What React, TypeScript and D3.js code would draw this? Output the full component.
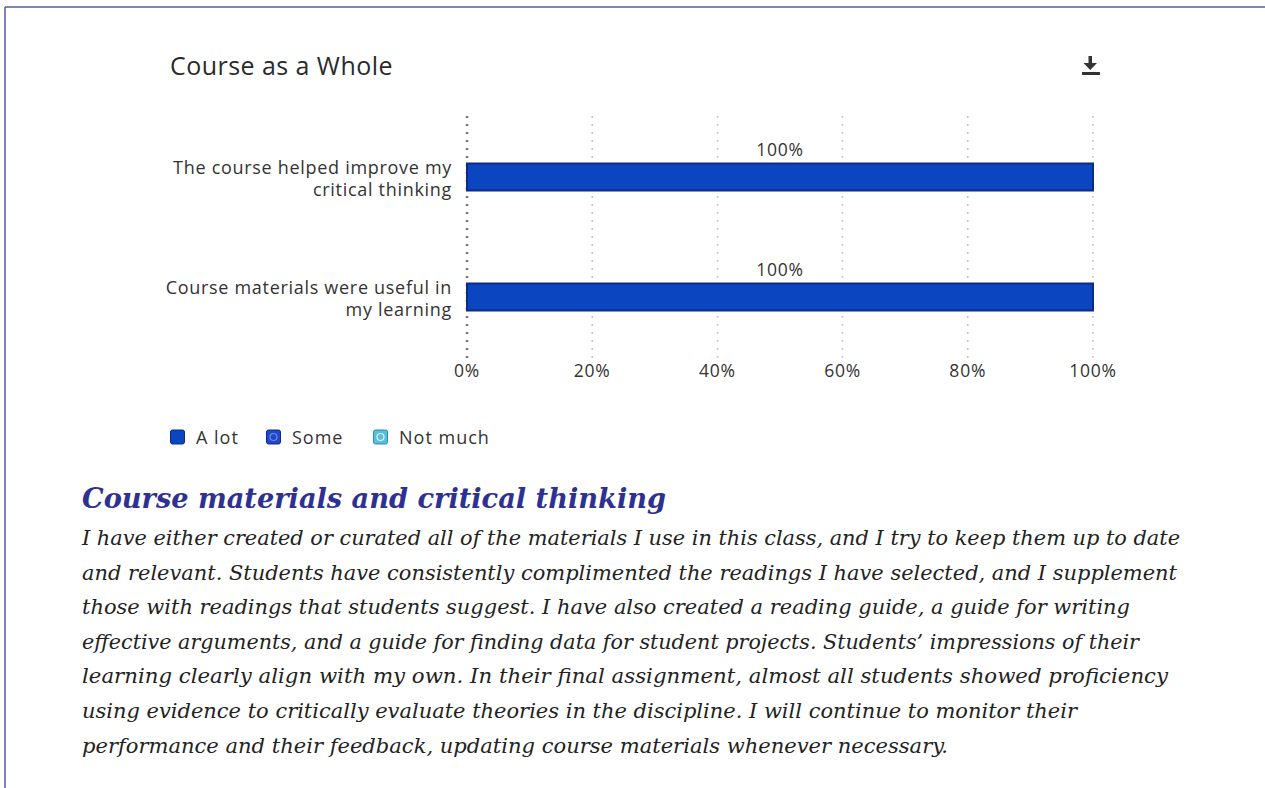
import React from "react";
import * as d3 from "d3";

const categories = [
  ["The course helped improve my", "critical thinking"],
  ["Course materials were useful in", "my learning"],
];
const seriesNames = ["A lot", "Some", "Not much"];
const aLot = [100, 100];
const some = [0, 0];
const notMuch = [0, 0];
const tickValues = [0, 20, 40, 60, 80, 100];

const paragraph = [
  "I have either created or curated all of the materials I use in this class, and I try to keep them up to date",
  "and relevant. Students have consistently complimented the readings I have selected, and I supplement",
  "those with readings that students suggest. I have also created a reading guide, a guide for writing",
  "effective arguments, and a guide for finding data for student projects. Students\u2019 impressions of their",
  "learning clearly align with my own. In their final assignment, almost all students showed proficiency",
  "using evidence to critically evaluate theories in the discipline. I will continue to monitor their",
  "performance and their feedback, updating course materials whenever necessary.",
];
const paragraphWidths = [1098, 1095, 1048, 1057, 1086, 995, 866];

const colors = ["#0c45c0", "#1f47c9", "#55bfdc"];
const strokes = ["#0a2c86", "#0a2c86", "#2a8fb0"];

export default function App() {
  const W = 1265;
  const H = 788;
  const x = d3.scaleLinear().domain([0, 100]).range([467, 1093]);
  const y = d3
    .scaleBand<number>()
    .domain(categories.map((_, i) => i))
    .range([117, 357])
    .paddingInner(0.775)
    .paddingOuter(0.3875);

  const rows = categories.map((_, i) => ({ i, a: aLot[i], s: some[i], n: notMuch[i] }));
  const stack = d3.stack<any>().keys(["a", "s", "n"])(rows);

  const font = "'Open Sans', 'Noto Sans', sans-serif";
  const serif = "'DejaVu Serif', Georgia, 'Liberation Serif', serif";

  const legendX = [170, 266, 373];

  return (
    <svg
      width={W}
      height={H}
      style={{ position: "absolute", left: 0, top: 0, background: "#fff" }}
    >
      {/* frame */}
      <line x1={5} y1={7} x2={W} y2={7} stroke="#5558a8" strokeWidth={1.5} />
      <line x1={5} y1={7} x2={5} y2={H} stroke="#5558a8" strokeWidth={1.5} />

      {/* title */}
      <text x={170} y={75} fontFamily={font} fontSize={25} letterSpacing={0.45} fill="#2b2b2b">
        Course as a Whole
      </text>

      {/* download icon */}
      <g fill="#333">
        <rect x={1088.5} y={56} width={3.5} height={8} />
        <path d="M1083.5,63 L1097,63 L1090.25,70 Z" />
        <rect x={1082} y={72} width={18} height={3} />
      </g>

      {/* gridlines */}
      {tickValues.map((t) => (
        <line
          key={t}
          x1={x(t)}
          x2={x(t)}
          y1={116}
          y2={360}
          stroke={t === 0 ? "#777" : "#c4c4c4"}
          strokeWidth={t === 0 ? 2.5 : 1.5}
          strokeDasharray="2,6"
        />
      ))}

      {/* bars */}
      {stack.map((layer, li) =>
        layer.map((d, i) => {
          const w = x(d[1]) - x(d[0]);
          if (w <= 0) return null;
          return (
            <rect
              key={`${li}-${i}`}
              x={x(d[0])}
              y={y(i)!}
              width={w}
              height={y.bandwidth()}
              fill={colors[li]}
              stroke={strokes[li]}
              strokeWidth={2}
            />
          );
        })
      )}

      {/* value labels */}
      {rows.map((r, i) => {
        const total = r.a + r.s + r.n;
        return (
          <text
            key={i}
            x={x(r.a / 2)}
            y={y(i)! - 8}
            textAnchor="middle"
            fontFamily={font}
            fontSize={17.5}
            letterSpacing={0.8}
            fill="#333"
          >
            {`${total}%`}
          </text>
        );
      })}

      {/* category labels */}
      {categories.map((lines, i) => (
        <text
          key={i}
          textAnchor="end"
          fontFamily={font}
          fontSize={18}
          letterSpacing={0.7}
          fill="#333"
        >
          {lines.map((ln, k) => (
            <tspan key={k} x={452} y={y(i)! + 10 + k * 22}>
              {ln}
            </tspan>
          ))}
        </text>
      ))}

      {/* x axis labels */}
      {tickValues.map((t) => (
        <text
          key={t}
          x={x(t)}
          y={377}
          textAnchor="middle"
          fontFamily={font}
          fontSize={17.5}
          letterSpacing={0.8}
          fill="#333"
        >
          {`${t}%`}
        </text>
      ))}

      {/* legend */}
      {seriesNames.map((name, i) => (
        <g key={name}>
          <rect
            x={legendX[i] + 0.5}
            y={430}
            width={14}
            height={14}
            rx={2}
            fill={colors[i]}
            stroke={strokes[i]}
            strokeWidth={1}
          />
          {i > 0 && (
            <circle
              cx={legendX[i] + 7.5}
              cy={437}
              r={3.5}
              fill="none"
              stroke={i === 1 ? "#6f8ce8" : "#e4f6fb"}
              strokeWidth={1.2}
            />
          )}
          <text
            x={legendX[i] + 26}
            y={444}
            fontFamily={font}
            fontSize={18}
            letterSpacing={1}
            fill="#333"
          >
            {name}
          </text>
        </g>
      ))}

      {/* heading */}
      <text
        x={82}
        y={508}
        fontFamily={serif}
        fontStyle="italic"
        fontWeight="bold"
        fontSize={28}
        fill="#2e3192"
        textLength={584}
        lengthAdjust="spacingAndGlyphs"
      >
        Course materials and critical thinking
      </text>

      {/* paragraph */}
      {paragraph.map((ln, i) => (
        <text
          key={i}
          x={82}
          y={545 + i * 34.6}
          fontFamily={serif}
          fontStyle="italic"
          fontSize={21}
          fill="#222"
          textLength={paragraphWidths[i]}
          lengthAdjust="spacingAndGlyphs"
        >
          {ln}
        </text>
      ))}
    </svg>
  );
}
